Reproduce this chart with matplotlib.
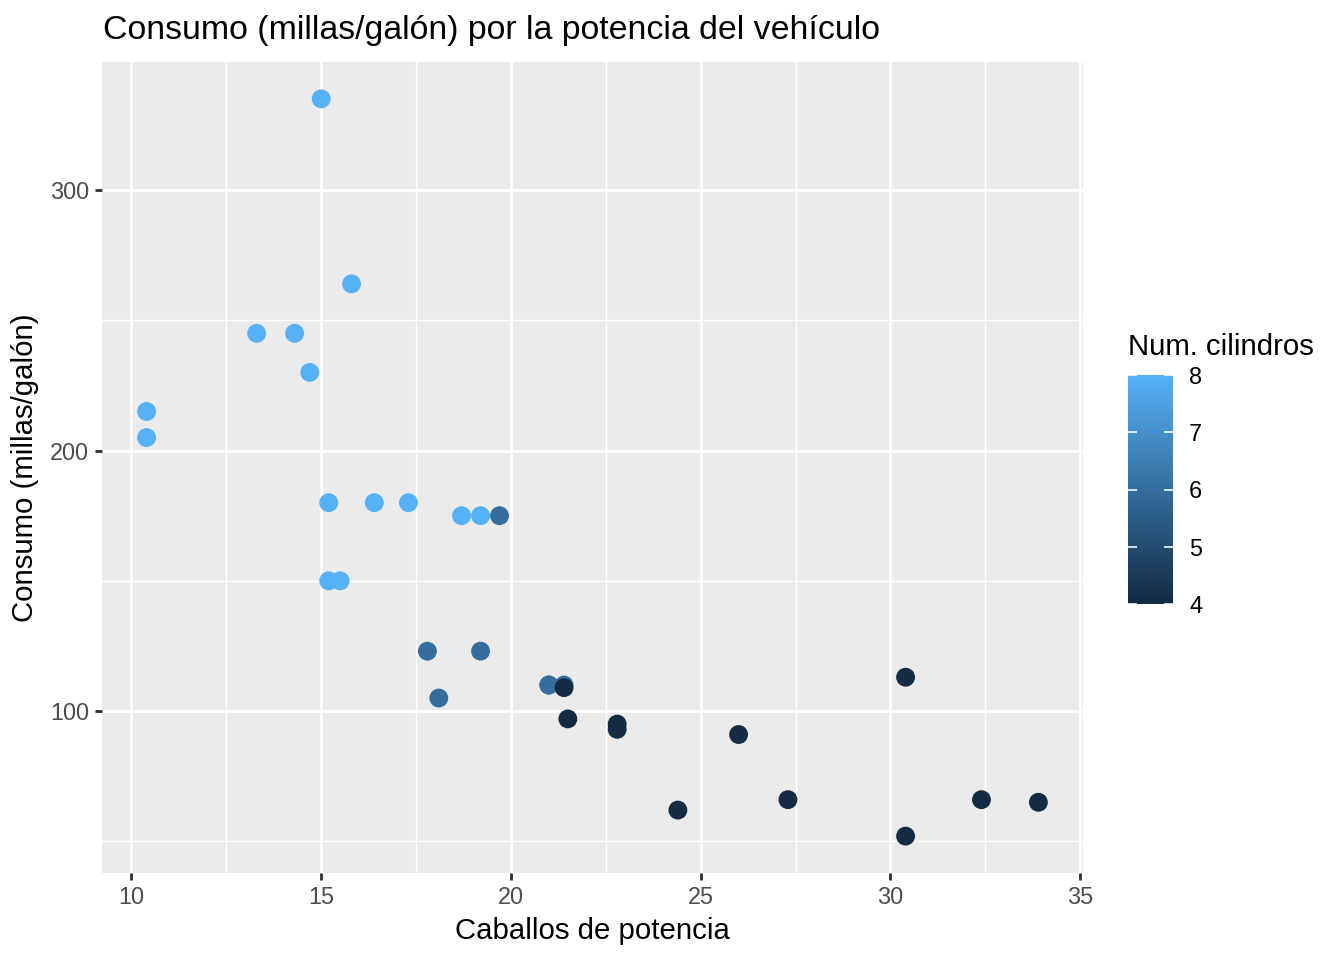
import matplotlib
matplotlib.use("Agg")
import matplotlib.pyplot as plt
import numpy as np
from matplotlib.colors import LinearSegmentedColormap, Normalize
from matplotlib.ticker import MultipleLocator

plt.rcParams['font.family'] = ['Liberation Sans', 'DejaVu Sans']

mpg = [21.0, 21.0, 22.8, 21.4, 18.7, 18.1, 14.3, 24.4, 22.8, 19.2, 17.8, 16.4, 17.3, 15.2,
       10.4, 10.4, 14.7, 32.4, 30.4, 33.9, 21.5, 15.5, 15.2, 13.3, 19.2, 27.3, 26.0, 30.4,
       15.8, 19.7, 15.0, 21.4]
hp = [110, 110, 93, 110, 175, 105, 245, 62, 95, 123, 123, 180, 180, 180,
      205, 215, 230, 66, 52, 65, 97, 150, 150, 245, 175, 66, 91, 113,
      264, 175, 335, 109]
cyl = [6, 6, 4, 6, 8, 6, 8, 4, 4, 6, 6, 8, 8, 8,
       8, 8, 8, 4, 4, 4, 4, 8, 8, 8, 8, 4, 4, 4,
       8, 6, 8, 4]

x_ticks = [10, 15, 20, 25, 30, 35]
y_ticks = [100, 200, 300]
cbar_ticks = [4, 5, 6, 7, 8]

title = "Consumo (millas/galón) por la potencia del vehículo"
xlabel = "Caballos de potencia"
ylabel = "Consumo (millas/galón)"
legend_title = "Num. cilindros"

cmap = LinearSegmentedColormap.from_list("gg", ["#132B43", "#56B1F7"])
norm = Normalize(vmin=min(cyl), vmax=max(cyl))

W, H = 1344, 960
fig = plt.figure(figsize=(7, 5), dpi=192)
ax = fig.add_axes([102 / W, 1 - 873 / H, (1083 - 102) / W, (873 - 62) / H])
ax.set_facecolor("#EBEBEB")
for s in ax.spines.values():
    s.set_visible(False)

xr = max(mpg) - min(mpg)
yr = max(hp) - min(hp)
ax.set_xlim(min(mpg) - 0.05 * xr, max(mpg) + 0.05 * xr)
ax.set_ylim(min(hp) - 0.05 * yr, max(hp) + 0.05 * yr)

ax.set_xticks(x_ticks)
ax.set_yticks(y_ticks)
ax.xaxis.set_minor_locator(MultipleLocator(2.5))
ax.yaxis.set_minor_locator(MultipleLocator(50))
ax.grid(which="major", color="white", linewidth=1.07)
ax.grid(which="minor", color="white", linewidth=0.53)
ax.set_axisbelow(True)
ax.tick_params(which="major", length=2.75, width=1.07, color="#333333",
               labelsize=8.8, labelcolor="#4D4D4D", pad=2.2)
ax.tick_params(which="minor", length=0)

ax.scatter(mpg, hp, c=cyl, cmap=cmap, norm=norm, s=50, linewidths=0, zorder=3)

ax.set_xlabel(xlabel, fontsize=11, color="black", labelpad=3)
ax.set_ylabel(ylabel, fontsize=11, color="black", labelpad=4)
fig.text(103 / W, 1 - 30 / H, title, fontsize=12.7, ha="left", va="center", color="black")

# colorbar
cax = fig.add_axes([1128 / W, 1 - 604 / H, 45 / W, 229 / H])
grad = np.linspace(min(cyl), max(cyl), 300).reshape(-1, 1)
cax.imshow(grad, aspect="auto", cmap=cmap, norm=norm, origin="lower",
           extent=[0, 1, min(cyl), max(cyl)])
cax.set_xlim(0, 1)
cax.set_ylim(min(cyl), max(cyl))
for s in cax.spines.values():
    s.set_visible(False)
cax.set_xticks([])
cax.yaxis.tick_right()
cax.set_yticks(cbar_ticks)
cax.tick_params(axis="y", length=0, labelsize=8.8, labelcolor="black", pad=6)
for t in cbar_ticks:
    cax.plot([0, 0.2], [t, t], color="white", linewidth=0.6, solid_capstyle="butt")
    cax.plot([0.8, 1], [t, t], color="white", linewidth=0.6, solid_capstyle="butt")
fig.text(1128 / W, 1 - 347 / H, legend_title, fontsize=11, ha="left", va="center", color="black")

fig.savefig("out.png", dpi=192)
